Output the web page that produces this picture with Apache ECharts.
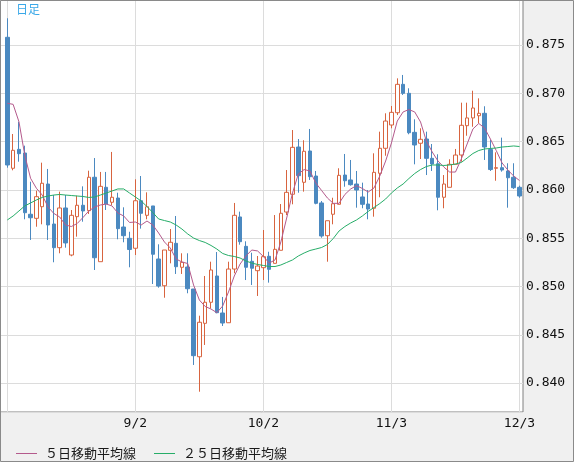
<!DOCTYPE html>
<html>
<head>
<meta charset="utf-8">
<script src="https://cdn.jsdelivr.net/npm/echarts@6/dist/echarts.min.js"></script>
<style>
html,body{margin:0;padding:0;background:#f0f0f0;}
#c{width:574px;height:462px;}
</style>
</head>
<body>
<div id="c"></div>
<script>
// ---- data ----
const openV = [0.87580,0.86224,0.86420,0.86382,0.85748,0.85706,0.85826,0.86061,0.85647,0.85402,
0.85813,0.85326,0.85723,0.85841,0.85785,0.86131,0.85257,0.86027,0.85872,0.85916,
0.85616,0.85499,0.85396,0.85888,0.85737,0.85834,0.85285,0.85008,0.85375,0.85447,
0.85199,0.85202,0.84974,0.84273,0.84619,0.84837,0.85109,0.84726,0.84625,0.85181,
0.85720,0.85416,0.85261,0.85164,0.85195,0.85313,0.85240,0.85375,0.85771,0.85955,
0.86444,0.86079,0.86403,0.86144,0.85865,0.85526,0.85748,0.85851,0.86154,0.86103,
0.86061,0.85927,0.85854,0.85810,0.86172,0.86431,0.86672,0.86799,0.87093,0.87000,
0.86596,0.86483,0.86527,0.86327,0.86271,0.85924,0.86027,0.86265,0.86361,0.86665,
0.86745,0.86768,0.86793,0.86418,0.86224,0.86230,0.86196,0.86131,0.86027];
const closeV = [0.86258,0.86410,0.86375,0.85764,0.85712,0.85930,0.86069,0.85637,0.85402,0.85813,
0.85451,0.85737,0.85841,0.85782,0.86131,0.85298,0.86037,0.85854,0.85924,0.85599,
0.85526,0.85383,0.85888,0.85758,0.85826,0.85334,0.85005,0.85378,0.85458,0.85205,
0.85251,0.84977,0.84284,0.84630,0.84837,0.85171,0.84729,0.84622,0.85181,0.85737,
0.85464,0.85199,0.85189,0.85212,0.85309,0.85178,0.85385,0.85758,0.85975,0.86441,
0.86147,0.86400,0.86137,0.85861,0.85523,0.85681,0.85857,0.86151,0.86095,0.86054,
0.85999,0.85851,0.85802,0.86182,0.86431,0.86713,0.86803,0.87093,0.87000,0.86592,
0.86465,0.86524,0.86327,0.86268,0.85924,0.86061,0.86265,0.86361,0.86669,0.86745,
0.86848,0.86793,0.86444,0.86211,0.86230,0.86206,0.86126,0.86023,0.85937];
const lowV = [0.86230,0.86203,0.86292,0.85696,0.85482,0.85619,0.85644,0.85482,0.85251,0.85344,
0.85402,0.85313,0.85516,0.85671,0.85751,0.85171,0.85257,0.85792,0.85844,0.85489,
0.85458,0.85199,0.85326,0.85599,0.85696,0.85026,0.84988,0.84884,0.85240,0.85130,
0.85130,0.84930,0.84188,0.83911,0.84395,0.84775,0.84723,0.84591,0.84625,0.85137,
0.85433,0.85067,0.85016,0.84902,0.85067,0.85040,0.85240,0.85375,0.85740,0.85851,
0.85971,0.85982,0.86103,0.85851,0.85505,0.85257,0.85644,0.85851,0.86033,0.86044,
0.85816,0.85810,0.85696,0.85723,0.85924,0.86354,0.86638,0.86775,0.86983,0.86576,
0.86265,0.86320,0.86154,0.86196,0.85789,0.85810,0.86027,0.86265,0.86292,0.86561,
0.86654,0.86690,0.86310,0.86196,0.86095,0.86189,0.85816,0.86010,0.85919];
const highV = [0.87777,0.86579,0.86706,0.86458,0.86085,0.85992,0.86282,0.86217,0.85947,0.85982,
0.85947,0.85792,0.85940,0.86037,0.86199,0.86330,0.86186,0.86186,0.86393,0.85971,
0.85820,0.85567,0.86110,0.86144,0.85975,0.85834,0.85437,0.85378,0.85595,0.85730,
0.85344,0.85344,0.84974,0.84698,0.85109,0.85257,0.85357,0.84892,0.85257,0.85865,
0.85775,0.85468,0.85350,0.85316,0.85585,0.85360,0.85740,0.85854,0.86206,0.86620,
0.86527,0.86514,0.86631,0.86196,0.85885,0.85681,0.85919,0.86224,0.86372,0.86310,
0.86196,0.86075,0.85999,0.86379,0.86603,0.86793,0.86869,0.87155,0.87190,0.87052,
0.86731,0.86638,0.86603,0.86475,0.86369,0.86154,0.86317,0.86424,0.86903,0.86903,
0.87027,0.86948,0.86866,0.86517,0.86389,0.86541,0.86276,0.86276,0.86044];
const ma5 = [0.86897,0.86886,0.86706,0.86361,0.86120,0.86017,0.85947,0.85823,0.85756,0.85720,
0.85637,0.85621,0.85652,0.85714,0.85782,0.85823,0.85844,0.85854,0.85834,0.85761,
0.85730,0.85663,0.85668,0.85637,0.85678,0.85637,0.85554,0.85461,0.85399,0.85285,
0.85254,0.85238,0.85016,0.84860,0.84793,0.84767,0.84729,0.84798,0.84943,0.85109,
0.85233,0.85316,0.85378,0.85368,0.85311,0.85243,0.85275,0.85461,0.85709,0.85968,
0.86165,0.86211,0.86196,0.86072,0.85994,0.85916,0.85861,0.85861,0.85953,0.86010,
0.86044,0.86015,0.85978,0.86020,0.86144,0.86299,0.86486,0.86713,0.86807,0.86832,
0.86807,0.86703,0.86506,0.86393,0.86299,0.86237,0.86185,0.86185,0.86320,0.86475,
0.86631,0.86688,0.86641,0.86527,0.86408,0.86279,0.86206,0.86144,0.86097];
const ma25 = [0.85689,0.85730,0.85782,0.85834,0.85865,0.85896,0.85922,0.85937,0.85947,0.85953,
0.85947,0.85942,0.85937,0.85932,0.85922,0.85927,0.85947,0.85968,0.85989,0.86010,
0.86010,0.85968,0.85927,0.85885,0.85828,0.85766,0.85699,0.85683,0.85668,0.85637,
0.85595,0.85544,0.85502,0.85476,0.85456,0.85425,0.85388,0.85342,0.85321,0.85311,
0.85295,0.85264,0.85243,0.85228,0.85218,0.85207,0.85207,0.85223,0.85249,0.85275,
0.85316,0.85347,0.85373,0.85388,0.85404,0.85435,0.85497,0.85575,0.85621,0.85658,
0.85689,0.85730,0.85777,0.85818,0.85859,0.85906,0.85968,0.86020,0.86061,0.86118,
0.86170,0.86211,0.86242,0.86258,0.86258,0.86253,0.86258,0.86268,0.86284,0.86330,
0.86377,0.86408,0.86424,0.86429,0.86434,0.86444,0.86449,0.86455,0.86449];
const tickIdx = [22, 44, 66, 88];
const tickLabels = ['9/2', '10/2', '11/3', '12/3'];
const gridIdx = [0, 22, 44, 66, 88];
const seriesNames = ['５日移動平均線', '２５日移動平均線'];
const yMin = 0.83701, yMax = 0.87966;

// ---- build ----
const categories = openV.map((_, i) => String(i));
const ohlc = openV.map((o, i) => [o, closeV[i], lowV[i], highV[i]]);
const maColors = ['#b45a8c', '#26ad68'];

const chart = echarts.init(document.getElementById('c'), null, {renderer: 'canvas'});
const mono = 'DejaVu Sans Mono';
const cjk = 'Noto Sans CJK JP';
chart.setOption({
  animation: false,
  backgroundColor: '#f0f0f0',
  title: {
    text: '日足', left: 16, top: 3, padding: 0,
    textStyle: {color: '#3aa8e8', fontSize: 12, fontWeight: 'normal', fontFamily: cjk}
  },
  legend: {
    left: 16, top: 447, padding: 0,
    itemWidth: 21, itemHeight: 1, itemGap: 18,
    data: seriesNames.map((n, k) => ({name: n, icon: 'rect', itemStyle: {color: maColors[k], borderWidth: 0}})),
    textStyle: {fontFamily: cjk, fontSize: 13, color: '#1a1a1a', padding: [0, 0, 0, 3]}
  },
  grid: [
    {left: 0, top: 0, width: 523, height: 412, show: true, backgroundColor: '#ffffff',
     borderColor: '#808080', borderWidth: 1, containLabel: false},
    {left: 7.3, top: 0, width: 512.2, height: 412, show: false, containLabel: false}
  ],
  xAxis: [
    {type: 'value', gridIndex: 0, show: false, min: 0, max: 1},
    {type: 'category', gridIndex: 1, data: categories, boundaryGap: false,
     axisLine: {show: false}, axisTick: {show: false},
     splitLine: {show: true, interval: (i) => gridIdx.includes(i), lineStyle: {color: '#dcdcdc', width: 1}},
     axisLabel: {
       show: true, margin: 5, interval: (i) => tickIdx.includes(i),
       formatter: (v, i) => { const k = tickIdx.indexOf(Number(v)); return k >= 0 ? tickLabels[k] : ''; },
       color: '#111', fontFamily: mono, fontSize: 13
     }}
  ],
  yAxis: [
    {type: 'value', gridIndex: 0, position: 'right', min: yMin, max: yMax,
     splitNumber: 8, minInterval: 0.005, maxInterval: 0.005,
     axisLine: {show: false}, axisTick: {show: false},
     splitLine: {show: true, lineStyle: {color: '#dcdcdc', width: 1}},
     axisLabel: {show: true, margin: 3, color: '#111', fontFamily: mono, fontSize: 13,
       showMinLabel: false, showMaxLabel: false,
       formatter: (v) => { const r = Math.round(v / 0.005) * 0.005; return Math.abs(r - v) < 1e-7 ? v.toFixed(3) : ''; }}},
    {type: 'value', gridIndex: 1, min: yMin, max: yMax, show: false, splitLine: {show: false}}
  ],
  series: [
    {type: 'candlestick', xAxisIndex: 1, yAxisIndex: 1, data: ohlc, barWidth: 4,
     itemStyle: {color: '#ffffff', color0: '#4b89c0', borderColor: '#d8643f', borderColor0: '#4b89c0', borderWidth: 1},
     emphasis: {disabled: true}},
    {type: 'line', name: seriesNames[0], xAxisIndex: 1, yAxisIndex: 1, data: ma5,
     symbol: 'none', smooth: false, lineStyle: {color: maColors[0], width: 1}, itemStyle: {color: maColors[0]}},
    {type: 'line', name: seriesNames[1], xAxisIndex: 1, yAxisIndex: 1, data: ma25,
     symbol: 'none', smooth: false, lineStyle: {color: maColors[1], width: 1}, itemStyle: {color: maColors[1]}}
  ],
  graphic: [
    {type: 'rect', silent: true, z: 100, shape: {x: 0.5, y: 0.5, width: 573, height: 461},
     style: {fill: null, stroke: '#8a8a8a', lineWidth: 1}}
  ]
});
</script>
</body>
</html>
